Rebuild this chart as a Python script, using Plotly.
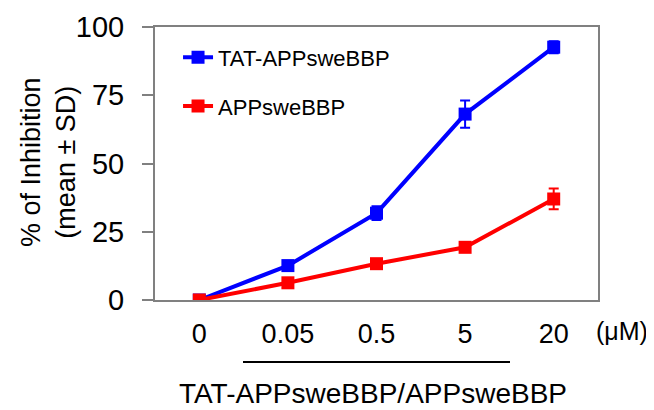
import plotly.graph_objects as go

categories = ["0", "0.05", "0.5", "5", "20"]
tat_values = [0, 12.6, 31.8, 68.1, 92.6]
tat_sd = [0, 1.0, 2.5, 5.0, 2.2]
app_values = [0, 6.3, 13.3, 19.3, 37.0]
app_sd = [0, 1.0, 1.0, 1.0, 3.8]
y_ticks = [0, 25, 50, 75, 100]

FONT = "Liberation Sans, Arial, sans-serif"

fig = go.Figure()
fig.add_trace(go.Scatter(
    x=categories, y=tat_values, name="TAT-APPsweBBP", mode="lines+markers",
    line=dict(color="#0000FF", width=4),
    marker=dict(symbol="square", size=13, color="#0000FF"),
    error_y=dict(type="data", array=tat_sd, color="#0000FF", thickness=2, width=5),
    legendgroup="a",
))
fig.add_trace(go.Scatter(
    x=categories, y=app_values, name="APPsweBBP", mode="lines+markers",
    line=dict(color="#FF0000", width=4),
    marker=dict(symbol="square", size=13, color="#FF0000"),
    error_y=dict(type="data", array=app_sd, color="#FF0000", thickness=2, width=5),
    legendgroup="b",
))

# page has an 8px body margin, so the figure is 8px smaller than the window
W, H = 646, 402
L, R, T, B = 147, 56, 19, 110
PW, PH = W - L - R, H - T - B

def px(x):
    return (x - 8 - L) / PW

def py(y):
    return (H - B - (y - 8)) / PH

fig.update_layout(
    width=W, height=H,
    margin=dict(l=L, r=R, t=T, b=B, autoexpand=False),
    paper_bgcolor="white", plot_bgcolor="white",
    font=dict(family=FONT, color="black"),
    showlegend=True,
    legend=dict(x=0.052, y=0.965, xanchor="left", yanchor="top",
                font=dict(size=22, family=FONT), bgcolor="rgba(0,0,0,0)",
                tracegroupgap=17, itemwidth=30),
)
fig.update_xaxes(
    type="category", range=[-0.5, 4.5],
    showline=True, linecolor="#808080", linewidth=2, mirror=True,
    ticks="", showgrid=False, zeroline=False,
    tickfont=dict(size=27, family=FONT), ticklabelstandoff=9,
)
fig.update_yaxes(
    range=[0, 100], tickvals=y_ticks,
    showline=True, linecolor="#808080", linewidth=2, mirror=True,
    ticks="outside", ticklen=11, tickcolor="#808080", tickwidth=1.5,
    showgrid=False, zeroline=False,
    tickfont=dict(size=29, family=FONT), ticklabelstandoff=12,
)

fig.add_annotation(text="% of Inhibition<br>(mean \u00b1 SD)", xref="paper", yref="paper",
                   x=px(48), y=py(162), showarrow=False, textangle=-90,
                   font=dict(size=27, family=FONT), xanchor="center", yanchor="middle")
fig.add_annotation(text="(\u03bcM)", xref="paper", yref="paper",
                   x=px(622), y=py(331), showarrow=False,
                   font=dict(size=25, family=FONT), xanchor="center", yanchor="middle")
fig.add_annotation(text="TAT-APPsweBBP/APPsweBBP", xref="paper", yref="paper",
                   x=px(373), y=py(393), showarrow=False,
                   font=dict(size=28, family=FONT), xanchor="center", yanchor="middle")
fig.add_shape(type="line", xref="paper", yref="paper",
              x0=px(243), x1=px(510), y0=py(362), y1=py(362),
              line=dict(color="black", width=2))

fig.write_html("out.html")
